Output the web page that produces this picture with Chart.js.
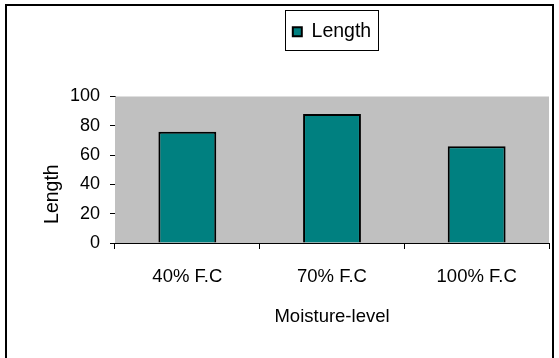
<!DOCTYPE html>
<html>
<head>
<meta charset="utf-8">
<script src="https://cdn.jsdelivr.net/npm/chart.js@4/dist/chart.umd.min.js"></script>
<style>
  html, body { margin: 0; padding: 0; background: #fff; }
  #wrap { width: 559px; height: 358px; }
</style>
</head>
<body>
<div id="wrap"><canvas id="chart" width="559" height="358"></canvas></div>
<script>
const categories = ['40% F.C', '70% F.C', '100% F.C'];
const lengthValues = [76, 88, 66];
const yTicks = [0, 20, 40, 60, 80, 100];

const FONT = 'Liberation Sans, Arial, sans-serif';

// white page, black frame, grey plot area, box around the legend
const framePlugin = {
  id: 'frame',
  beforeInit(chart) {
    const legend = chart.legend;
    const fit = legend.fit;
    legend.fit = function () {
      fit.call(this);
      this.height += 45;
    };
  },
  beforeDraw(chart) {
    const ctx = chart.ctx;
    ctx.save();
    ctx.fillStyle = '#fff';
    ctx.fillRect(0, 0, chart.width, chart.height);
    ctx.strokeStyle = '#000';
    ctx.lineWidth = 2;
    ctx.strokeRect(6, 5, 547, 360);
    ctx.restore();
  },
  beforeDatasetsDraw(chart) {
    const { ctx, chartArea } = chart;
    ctx.save();
    ctx.fillStyle = '#c0c0c0';
    ctx.fillRect(chartArea.left, chartArea.top, chartArea.right - chartArea.left, chartArea.bottom - chartArea.top);
    ctx.restore();
  },
  afterDraw(chart) {
    const box = chart.legend.legendHitBoxes[0];
    if (!box) return;
    const ctx = chart.ctx;
    ctx.save();
    ctx.strokeStyle = '#000';
    ctx.lineWidth = 1;
    ctx.strokeRect(Math.round(box.left - 8) + 0.5, Math.round(box.top - 12) + 0.5, Math.round(box.width + 15), 40);
    ctx.restore();
  }
};

new Chart(document.getElementById('chart'), {
  type: 'bar',
  data: {
    labels: categories,
    datasets: [{
      label: 'Length',
      data: lengthValues,
      backgroundColor: '#008080',
      borderColor: '#000',
      borderWidth: 2,
      barPercentage: 0.4,
      categoryPercentage: 1
    }]
  },
  options: {
    responsive: false,
    animation: false,
    layout: { padding: { left: 6, right: 10, top: 12, bottom: 0 } },
    plugins: {
      legend: {
        position: 'top',
        fullSize: false,
        labels: {
          color: '#000',
          font: { family: FONT, size: 19.5 },
          boxWidth: 9,
          boxHeight: 9,
          padding: 10
        }
      },
      tooltip: { enabled: false }
    },
    scales: {
      x: {
        grid: {
          display: true,
          drawOnChartArea: false,
          drawTicks: true,
          tickLength: 6,
          color: '#000',
          offset: true
        },
        border: { display: true, color: '#000', width: 1 },
        ticks: {
          color: '#000',
          font: { family: FONT, size: 18.5 },
          padding: 17,
          maxRotation: 0
        },
        title: {
          display: true,
          text: 'Moisture-level',
          color: '#000',
          font: { family: FONT, size: 18.5 },
          padding: { top: 0, bottom: 30 }
        },
        afterFit(scale) { scale.height = 115; }
      },
      y: {
        min: 0,
        max: 100,
        afterBuildTicks(scale) { scale.ticks = yTicks.map(v => ({ value: v })); },
        grid: {
          display: true,
          drawOnChartArea: false,
          drawTicks: true,
          tickLength: 5,
          color: '#000'
        },
        border: { display: true, color: '#000', width: 1 },
        ticks: {
          color: '#000',
          font: { family: FONT, size: 18 },
          padding: 10
        },
        title: {
          display: true,
          // trailing spaces push the word down, as in the original
          text: 'Length         ',
          color: '#000',
          font: { family: FONT, size: 19.5 },
          padding: { top: 35, bottom: 0 }
        },
        afterFit(scale) { scale.width = 109; }
      }
    }
  },
  plugins: [framePlugin]
});
</script>
</body>
</html>
